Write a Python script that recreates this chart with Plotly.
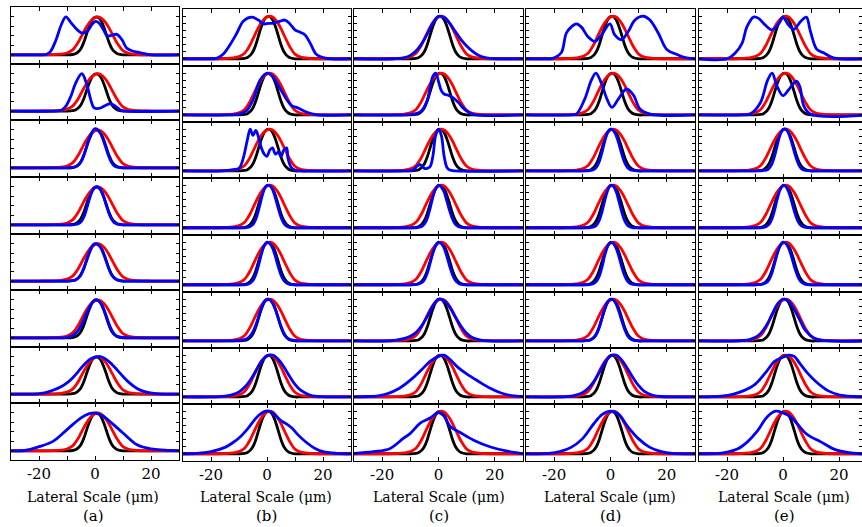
import plotly.graph_objects as go

W, H = 862, 527
COLS = ["a", "b", "c", "d", "e"]
XTICK_VALS = [-30, -20, -10, 0, 10, 20, 30]
XTICK_TEXT = ["", "-20", "", "0", "", "20", ""]
XLABEL = "Lateral Scale (μm)"

# common lateral grid (µm) for the reference curves and the narrow blue profiles
G = [-30, -20, -15, -12, -10, -8, -7, -6, -5, -4, -3, -2, -1, 0, 1, 2, 3, 4, 5, 6, 7, 8, 10, 12, 15, 20, 30]
black_y = [0, 0, 0, 0, 0, 0.01, 0.03, 0.08, 0.17, 0.33, 0.55, 0.76, 0.92, 0.99, 0.99, 0.92, 0.76, 0.55, 0.33, 0.17, 0.08, 0.03, 0, 0, 0, 0, 0]
red_y = [0, 0, 0.005, 0.02, 0.05, 0.13, 0.22, 0.33, 0.47, 0.61, 0.74, 0.85, 0.93, 0.98, 1.0, 0.98, 0.92, 0.83, 0.71, 0.57, 0.43, 0.3, 0.11, 0.04, 0.01, 0, 0]

# ---- blue curves, column (a)
blue_a1_x = [-30, -20, -17.5, -16, -14, -12, -10.4, -8.6, -6.2, -4.4, -2.7, -0.9, 0.2, 1.4, 3.1, 4.3, 6.1, 7.8, 9.6, 11.3, 13.1, 15.4, 17.8, 20, 30]
blue_a1_y = [0, 0, 0.01, 0.08, 0.38, 0.8, 1.0, 0.85, 0.65, 0.57, 0.63, 0.82, 0.88, 0.84, 0.65, 0.5, 0.52, 0.54, 0.4, 0.18, 0.11, 0.07, 0.03, 0, 0]
blue_a2_x = [-30, -15, -12, -10.4, -8.6, -6.9, -4.7, -3.1, -1.5, -0.4, 1.4, 3.7, 5.5, 7.3, 9.1, 11, 30]
blue_a2_y = [0, 0, 0.02, 0.13, 0.4, 0.75, 1.0, 0.75, 0.3, 0.09, 0.07, 0.15, 0.2, 0.13, 0.03, 0, 0]
blue_a3_x = G
blue_a3_y = [0, 0, 0, 0, 0, 0.01, 0.03, 0.07, 0.16, 0.33, 0.56, 0.79, 0.95, 1.03, 1.0, 0.9, 0.72, 0.5, 0.29, 0.13, 0.05, 0.02, 0, 0, 0, 0, 0]
blue_a4_x = G
blue_a4_y = [0, 0, 0, 0, 0, 0, 0.01, 0.03, 0.08, 0.2, 0.42, 0.68, 0.88, 0.99, 1.0, 0.93, 0.76, 0.52, 0.3, 0.14, 0.05, 0.02, 0, 0, 0, 0, 0]
blue_a5_x = G
blue_a5_y = [0, 0, 0, 0, 0, 0.01, 0.03, 0.08, 0.18, 0.35, 0.57, 0.78, 0.94, 1.0, 0.98, 0.9, 0.74, 0.53, 0.32, 0.16, 0.07, 0.03, 0, 0, 0, 0, 0]
blue_a6_x = G
blue_a6_y = [0, 0, 0, 0, 0.01, 0.06, 0.12, 0.2, 0.32, 0.48, 0.65, 0.8, 0.93, 1.0, 0.99, 0.92, 0.78, 0.58, 0.37, 0.2, 0.09, 0.04, 0.01, 0, 0, 0, 0]
blue_a7_x = [-30, -22, -18, -15, -12, -10, -8, -6, -4, -2, 0, 2, 4, 6, 8, 10, 12, 15, 18, 21, 25, 30]
blue_a7_y = [0, 0, 0.03, 0.1, 0.2, 0.3, 0.43, 0.6, 0.78, 0.92, 0.99, 1.0, 0.93, 0.8, 0.64, 0.47, 0.32, 0.15, 0.06, 0.02, 0, 0]
blue_a8_x = [-30, -25, -20, -15, -10, -5, -2, 0, 3, 6, 10, 15, 20, 25, 30]
blue_a8_y = [0, 0.01, 0.11, 0.25, 0.56, 0.87, 0.98, 1.0, 0.91, 0.73, 0.47, 0.16, 0.05, 0.02, 0]

# ---- column (b)
blue_b1_x = [-30, -20, -18, -15.5, -13.2, -10.8, -8.4, -5.5, -3.1, -1.3, 0.5, 2.3, 4.5, 6.4, 8.2, 10, 12, 13.6, 15.4, 17.7, 21.3, 30]
blue_b1_y = [0, 0, 0.01, 0.12, 0.33, 0.6, 0.89, 0.98, 0.91, 0.82, 0.83, 0.84, 0.88, 0.91, 0.82, 0.68, 0.62, 0.56, 0.37, 0.1, 0.01, 0]
blue_b2_x = [-30, -14, -10, -7.3, -4.9, -2.5, 0, 2, 4.6, 7, 8.8, 10.6, 13, 15.4, 18, 30]
blue_b2_y = [0, 0, 0.02, 0.1, 0.37, 0.83, 1.0, 0.92, 0.64, 0.37, 0.22, 0.18, 0.1, 0.04, 0, 0]
blue_b3_x = [-30, -16, -12, -10, -8.5, -7, -6, -5, -4, -3, -2, -1, 0, 1, 2, 3, 4, 5, 6, 7, 7.5, 8.5, 10, 12, 30]
blue_b3_y = [0, 0, 0.03, 0.06, 0.3, 0.75, 1.0, 0.85, 0.97, 0.8, 0.55, 0.4, 0.35, 0.5, 0.55, 0.4, 0.45, 0.35, 0.5, 0.55, 0.3, 0.1, 0.02, 0, 0]
blue_b4_x = G
blue_b4_y = [0, 0, 0, 0, 0, 0, 0.01, 0.03, 0.08, 0.2, 0.42, 0.68, 0.9, 1.0, 0.99, 0.9, 0.7, 0.46, 0.25, 0.11, 0.04, 0.01, 0, 0, 0, 0, 0]
blue_b5_x = G
blue_b5_y = [0, 0, 0, 0, 0, 0, 0.01, 0.04, 0.1, 0.24, 0.46, 0.72, 0.92, 1.0, 0.97, 0.86, 0.66, 0.43, 0.23, 0.1, 0.04, 0.01, 0, 0, 0, 0, 0]
blue_b6_x = G
blue_b6_y = [0, 0, 0, 0, 0.01, 0.03, 0.06, 0.12, 0.22, 0.38, 0.58, 0.79, 0.94, 1.0, 0.98, 0.9, 0.75, 0.55, 0.35, 0.19, 0.09, 0.04, 0.01, 0, 0, 0, 0]
blue_b7_x = [-30, -20, -15, -12, -10, -8, -6, -4, -2, 0, 2, 4, 6, 8, 10, 12, 15, 18, 22, 30]
blue_b7_y = [0, 0, 0.02, 0.06, 0.12, 0.23, 0.4, 0.62, 0.85, 0.98, 1.0, 0.9, 0.72, 0.5, 0.3, 0.16, 0.05, 0.01, 0, 0]
blue_b8_x = [-30, -25, -20, -15, -12, -10, -7, -5, -3, -1, 1, 3, 5, 7, 9, 11, 14, 17, 20, 25, 30]
blue_b8_y = [0, 0.01, 0.05, 0.15, 0.27, 0.37, 0.58, 0.75, 0.9, 0.99, 1.0, 0.9, 0.78, 0.7, 0.6, 0.45, 0.27, 0.13, 0.05, 0.01, 0]

# ---- column (c)
blue_c1_x = [-30, -16, -12, -10, -8, -6, -4, -2, 0, 2, 4, 6, 8, 10, 12, 14, 17, 20, 30]
blue_c1_y = [0, 0, 0.03, 0.08, 0.18, 0.35, 0.58, 0.84, 1.0, 0.97, 0.83, 0.64, 0.45, 0.3, 0.18, 0.09, 0.02, 0, 0]
blue_c2_x = [-30, -12, -8, -6, -4, -3, -2, -1, 0, 1, 2, 3, 5, 7, 9, 11, 13, 30]
blue_c2_y = [0, 0, 0.03, 0.1, 0.35, 0.65, 0.92, 1.0, 0.8, 0.58, 0.5, 0.48, 0.42, 0.3, 0.15, 0.05, 0, 0]
blue_c3_x = [-30, -12, -9, -7.5, -6.5, -5, -4, -3, -2, -1, 0, 1, 2, 3, 4, 6, 30]
blue_c3_y = [0, 0, 0.02, 0.12, 0.15, 0.06, 0.06, 0.1, 0.35, 0.85, 1.0, 0.85, 0.35, 0.08, 0.02, 0, 0]
blue_c4_x = G
blue_c4_y = [0, 0, 0, 0, 0, 0, 0.01, 0.03, 0.09, 0.22, 0.45, 0.72, 0.92, 1.0, 0.96, 0.84, 0.62, 0.39, 0.2, 0.08, 0.03, 0.01, 0, 0, 0, 0, 0]
blue_c5_x = G
blue_c5_y = [0, 0, 0, 0, 0, 0.01, 0.02, 0.05, 0.12, 0.27, 0.5, 0.75, 0.93, 1.0, 0.97, 0.86, 0.66, 0.43, 0.23, 0.1, 0.04, 0.01, 0, 0, 0, 0, 0]
blue_c6_x = [-30, -18, -15, -12, -10, -8, -6, -4, -2, 0, 2, 4, 6, 8, 10, 12, 15, 18, 30]
blue_c6_y = [0, 0, 0.02, 0.06, 0.11, 0.2, 0.36, 0.58, 0.84, 1.0, 0.96, 0.8, 0.57, 0.35, 0.18, 0.08, 0.02, 0, 0]
blue_c7_x = [-30, -25, -22, -18, -14, -10, -6, -3, 0, 2, 4, 7, 10, 14, 18, 22, 26, 30]
blue_c7_y = [0, 0.01, 0.02, 0.08, 0.2, 0.4, 0.65, 0.85, 0.97, 1.0, 0.9, 0.7, 0.55, 0.38, 0.22, 0.1, 0.03, 0.01]
blue_c8_x = [-30, -23, -17.3, -12.5, -10, -6.5, -3, 0, 1.8, 4.2, 7.7, 12.5, 18.5, 24.4, 29, 30]
blue_c8_y = [0.01, 0.05, 0.12, 0.36, 0.48, 0.72, 0.84, 0.97, 0.9, 0.64, 0.5, 0.32, 0.16, 0.06, 0.01, 0]

# ---- column (d)
blue_d1_x = [-30, -23, -20.5, -17.5, -15.7, -13.9, -12.1, -10.4, -8, -5.6, -3.2, -0.2, 1.5, 3.9, 6.3, 8.7, 11.7, 14, 17, 20, 23.6, 27, 30]
blue_d1_y = [0, 0, 0.01, 0.14, 0.6, 0.75, 0.82, 0.75, 0.52, 0.41, 0.56, 0.82, 0.56, 0.45, 0.64, 0.91, 1.0, 0.91, 0.6, 0.22, 0.1, 0.02, 0]
blue_d2_x = [-30, -14, -12.1, -9.2, -6.8, -5.2, -3.2, -1.2, 0.5, 2.7, 5.7, 8.1, 10.5, 14, 30]
blue_d2_y = [0, 0, 0.02, 0.37, 0.83, 1.0, 0.75, 0.37, 0.18, 0.37, 0.62, 0.48, 0.14, 0.02, 0]
blue_d3_x = G
blue_d3_y = [0, 0, 0, 0, 0, 0, 0.01, 0.03, 0.09, 0.22, 0.45, 0.72, 0.93, 1.0, 0.97, 0.85, 0.64, 0.4, 0.2, 0.08, 0.03, 0.01, 0, 0, 0, 0, 0]
blue_d4_x = G
blue_d4_y = [0, 0, 0, 0, 0, 0, 0.01, 0.02, 0.06, 0.17, 0.38, 0.65, 0.88, 1.0, 0.98, 0.85, 0.62, 0.37, 0.17, 0.06, 0.02, 0, 0, 0, 0, 0, 0]
blue_d5_x = G
blue_d5_y = [0, 0, 0, 0, 0, 0, 0.01, 0.03, 0.08, 0.2, 0.42, 0.7, 0.91, 1.0, 0.97, 0.86, 0.66, 0.42, 0.22, 0.09, 0.03, 0.01, 0, 0, 0, 0, 0]
blue_d6_x = G
blue_d6_y = [0, 0, 0, 0, 0, 0.01, 0.03, 0.07, 0.16, 0.32, 0.55, 0.78, 0.94, 1.0, 0.98, 0.88, 0.7, 0.48, 0.28, 0.13, 0.05, 0.02, 0, 0, 0, 0, 0]
blue_d7_x = [-30, -18, -14, -12, -10, -8, -6, -4, -2, 0, 2, 4, 6, 8, 10, 12, 15, 18, 30]
blue_d7_y = [0, 0, 0.02, 0.05, 0.1, 0.2, 0.36, 0.58, 0.82, 0.98, 1.0, 0.88, 0.68, 0.46, 0.27, 0.13, 0.04, 0.01, 0]
blue_d8_x = [-30, -22, -18, -14, -10, -6, -3, 0, 3, 6, 10, 14, 18, 22, 30]
blue_d8_y = [0, 0.01, 0.05, 0.15, 0.35, 0.7, 0.92, 1.0, 0.92, 0.65, 0.35, 0.15, 0.05, 0.01, 0]

# ---- column (e)
blue_e1_x = [-30, -20, -17, -14.6, -12.9, -10.5, -8.7, -6.3, -3.9, -1.5, 0, 2, 3.8, 6.2, 8.3, 9.8, 12.1, 14.5, 18, 30]
blue_e1_y = [0, 0, 0.14, 0.37, 0.75, 0.98, 0.95, 0.79, 0.68, 0.83, 0.97, 0.79, 0.69, 0.87, 0.98, 0.64, 0.22, 0.14, 0.02, 0]
blue_e2_x = [-30, -14, -11.7, -8.1, -5.5, -3.9, -2.1, 0, 2, 4.8, 6, 7.4, 9.8, 30]
blue_e2_y = [0, 0, 0.02, 0.29, 0.83, 1.0, 0.68, 0.46, 0.6, 0.81, 0.68, 0.22, 0.02, 0]
blue_e3_x = G
blue_e3_y = [0, 0, 0, 0, 0, 0, 0.01, 0.02, 0.06, 0.16, 0.36, 0.63, 0.87, 0.99, 1.0, 0.9, 0.7, 0.46, 0.25, 0.1, 0.03, 0.01, 0, 0, 0, 0, 0]
blue_e4_x = G
blue_e4_y = [0, 0, 0, 0, 0, 0, 0.01, 0.03, 0.08, 0.2, 0.42, 0.69, 0.9, 1.0, 0.97, 0.85, 0.64, 0.4, 0.2, 0.08, 0.03, 0.01, 0, 0, 0, 0, 0]
blue_e5_x = G
blue_e5_y = [0, 0, 0, 0, 0, 0.01, 0.02, 0.05, 0.12, 0.27, 0.5, 0.75, 0.93, 1.0, 0.97, 0.86, 0.67, 0.44, 0.24, 0.1, 0.04, 0.01, 0, 0, 0, 0, 0]
blue_e6_x = [-30, -16, -12, -10, -8, -6, -4, -2, 0, 2, 4, 6, 8, 11, 14, 30]
blue_e6_y = [0, 0, 0.03, 0.08, 0.18, 0.36, 0.62, 0.88, 1.0, 0.95, 0.75, 0.5, 0.25, 0.07, 0.01, 0]
blue_e7_x = [-30, -22, -18, -14, -10, -6, -3, 0, 2, 4, 6, 9, 12, 16, 20, 25, 30]
blue_e7_y = [0, 0.02, 0.06, 0.15, 0.3, 0.6, 0.85, 0.95, 1.0, 0.97, 0.8, 0.55, 0.35, 0.15, 0.05, 0.01, 0]
blue_e8_x = [-30, -23, -19.9, -16.3, -12.7, -9.2, -5.6, -2.6, 0, 2.7, 5.1, 8.7, 13.5, 18.2, 23, 27.7, 30]
blue_e8_y = [0, 0.01, 0.04, 0.11, 0.28, 0.53, 0.87, 1.0, 0.96, 0.87, 0.7, 0.45, 0.28, 0.11, 0.03, 0, 0]

BLUE = {name: (globals()["blue_%s_x" % name], globals()["blue_%s_y" % name])
        for name in [c + str(r) for c in COLS for r in range(1, 9)]}

# ---- layout geometry (pixels)
col_px = {"a": (11, 179), "b": (183, 351), "c": (354, 523), "d": (526, 695), "e": (699, 862)}
col_top = {"a": 7, "b": 9, "c": 9, "d": 9, "e": 9}
col_bot = {"a": 460, "b": 461, "c": 461, "d": 461, "e": 461}
x_range = {c: [-30, 30] for c in COLS}
x_range["e"] = [-30, 28.2]
y_range = {c: [-0.17, 1.17] for c in COLS}
y_range["a"] = [-0.24, 1.26]
y_dtick = {c: 1 / 6 for c in COLS}
y_dtick["a"] = 0.25
title_cx = {"a": 93, "b": 266, "c": 439, "d": 610, "e": 784}

FONT = "DejaVu Serif"
fig = go.Figure()
layout = dict(width=W, height=H, margin=dict(l=0, r=0, t=0, b=0),
              paper_bgcolor="white", plot_bgcolor="white", showlegend=False,
              font=dict(family=FONT, size=14, color="black"))

n = 0
for c in COLS:
    x0, x1 = col_px[c]
    top, bot = col_top[c], col_bot[c]
    rh = (bot - top) / 8
    for r in range(1, 9):
        n += 1
        sfx = "" if n == 1 else str(n)
        ptop = round(top + (r - 1) * rh)
        pbot = round(top + r * rh)
        layout["xaxis" + sfx] = dict(
            domain=[x0 / W, x1 / W], range=x_range[c], anchor="y" + sfx,
            showline=True, linecolor="black", linewidth=1.3, mirror="ticks",
            ticks="inside", ticklen=4, tickwidth=1, tickcolor="black",
            tickvals=XTICK_VALS, ticktext=XTICK_TEXT,
            showticklabels=(r == 8), showgrid=False, zeroline=False,
            tickfont=dict(family=FONT, size=15, color="black"))
        layout["yaxis" + sfx] = dict(
            domain=[1 - pbot / H, 1 - ptop / H], range=y_range[c], anchor="x" + sfx,
            showline=True, linecolor="black", linewidth=1.3, mirror="ticks",
            ticks="inside", ticklen=3, tickwidth=1, tickcolor="black",
            tick0=0, dtick=y_dtick[c], showticklabels=False,
            showgrid=False, zeroline=False)
        bx, by = BLUE[c + str(r)]
        for xs, ys, col in [(G, black_y, "black"), (G, red_y, "#ff0000"), (bx, by, "#0000ff")]:
            fig.add_trace(go.Scatter(x=xs, y=ys, mode="lines",
                                     line=dict(color=col, width=2.8, shape="spline"),
                                     xaxis="x" + sfx, yaxis="y" + sfx, hoverinfo="skip"))

annotations = []
for c in COLS:
    annotations.append(dict(text=XLABEL, x=title_cx[c] / W, y=1 - 497 / H, xref="paper", yref="paper",
                            showarrow=False, xanchor="center", yanchor="middle",
                            font=dict(family=FONT, size=14, color="black")))
    annotations.append(dict(text="(%s)" % c, x=title_cx[c] / W, y=1 - 516 / H, xref="paper", yref="paper",
                            showarrow=False, xanchor="center", yanchor="middle",
                            font=dict(family=FONT, size=15, color="black")))
layout["annotations"] = annotations
fig.update_layout(**layout)
fig.write_html("out.html")
